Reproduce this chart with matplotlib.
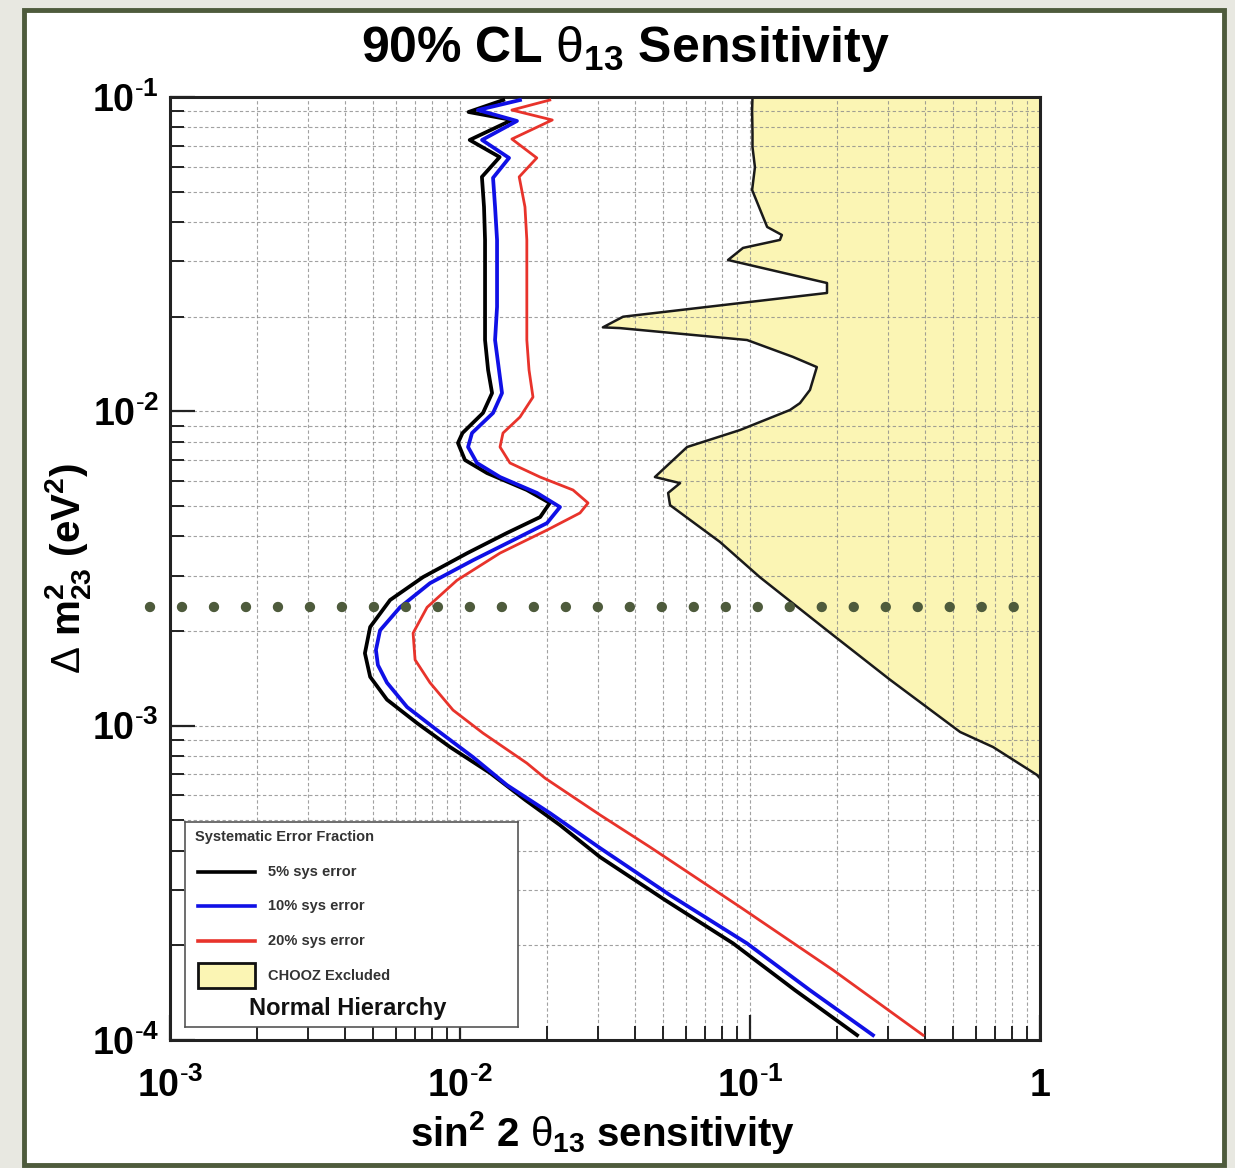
import numpy as np
import matplotlib
matplotlib.use('Agg')
import matplotlib.pyplot as plt
from matplotlib.patches import Rectangle
from matplotlib.lines import Line2D
from matplotlib.ticker import FuncFormatter, NullFormatter, LogLocator

plt.rcParams['font.family'] = ['Liberation Sans', 'DejaVu Sans']
plt.rcParams['mathtext.fontset'] = 'custom'
plt.rcParams['mathtext.rm'] = 'Liberation Sans'
plt.rcParams['mathtext.bf'] = 'Liberation Sans:bold'
plt.rcParams['mathtext.it'] = 'Liberation Sans:italic'

# ---------------- data ----------------
# 5% systematic error (black)
dm2_5 = [0.0978, 0.0896, 0.0845, 0.0730, 0.0644, 0.0557, 0.0447, 0.0351, 0.0275, 0.0215,
         0.01686, 0.01353, 0.01143, 0.00988, 0.00853, 0.00793, 0.00700, 0.00636, 0.00562,
         0.00511, 0.00461, 0.00410, 0.00354, 0.00297, 0.00251, 0.00206, 0.00170, 0.00143,
         0.00121, 0.001019, 0.000855, 0.000707, 0.000580, 0.000483, 0.000382, 0.000279,
         0.000203, 0.000144, 0.0001036]
sens_5 = [0.0141, 0.0107, 0.0151, 0.0108, 0.0137, 0.0119, 0.0121, 0.0122, 0.0122, 0.0122,
          0.0122, 0.0125, 0.0129, 0.0120, 0.0102, 0.00984, 0.0104, 0.0124, 0.0170,
          0.0204, 0.0189, 0.0145, 0.0106, 0.00746, 0.00574, 0.00490, 0.00470, 0.00490,
          0.00560, 0.00711, 0.00924, 0.0127, 0.0168, 0.0221, 0.0304, 0.0509,
          0.0874, 0.143, 0.234]

# 10% systematic error (blue)
dm2_10 = [0.0978, 0.0909, 0.0839, 0.0730, 0.0640, 0.0553, 0.0447, 0.0351, 0.0275, 0.0215,
          0.01686, 0.01353, 0.01143, 0.00988, 0.00853, 0.00770, 0.00685, 0.00618, 0.00550,
          0.00496, 0.00441, 0.00389, 0.00336, 0.00284, 0.00238, 0.00201, 0.00174, 0.00156,
          0.00137, 0.001146, 0.000968, 0.000794, 0.000647, 0.000527, 0.000408, 0.000289,
          0.000203, 0.000144, 0.0001036]
sens_10 = [0.0161, 0.01153, 0.01572, 0.01191, 0.01476, 0.0130, 0.01321, 0.01342, 0.01342, 0.01342,
           0.01321, 0.01363, 0.01396, 0.0130, 0.0110, 0.01066, 0.01144, 0.01374, 0.01843,
           0.02212, 0.01995, 0.01523, 0.01109, 0.00788, 0.00621, 0.00530, 0.00513, 0.00521,
           0.00560, 0.00657, 0.00833, 0.01109, 0.01452, 0.02043, 0.0304, 0.0530,
           0.0976, 0.161, 0.2655]

# 20% systematic error (red)
dm2_20 = [0.0978, 0.0909, 0.0845, 0.0735, 0.0640, 0.0557, 0.0447, 0.0351, 0.0275, 0.0215,
          0.01686, 0.01353, 0.0111, 0.00959, 0.00853, 0.0077, 0.00685, 0.00618, 0.00562,
          0.00511, 0.00475, 0.00419, 0.00354, 0.0029, 0.00238, 0.00197, 0.00162, 0.00137,
          0.001121, 0.000947, 0.00076, 0.000681, 0.00052, 0.000411, 0.000265, 0.000167,
          0.0001036]
sens_20 = [0.0204, 0.0151, 0.0208, 0.0151, 0.0184, 0.0160, 0.01675, 0.0170, 0.0170, 0.0170,
           0.0170, 0.0173, 0.01785, 0.0161, 0.01407, 0.01374, 0.01487, 0.01888, 0.02453,
           0.02764, 0.02593, 0.01995, 0.01374, 0.00976, 0.0077, 0.00689, 0.0070, 0.00788,
           0.00946, 0.0120, 0.0170, 0.01964, 0.0304, 0.0452, 0.0924, 0.1932,
           0.3951]

# CHOOZ excluded region boundary
chooz_dm2 = [0.1, 0.0909, 0.0768, 0.0693, 0.0598, 0.0506, 0.0386, 0.0364, 0.0351, 0.0331,
             0.0303, 0.0256, 0.0238, 0.0200, 0.0185, 0.0184, 0.01686, 0.0149, 0.01383,
             0.0117, 0.01062, 0.0101, 0.00872, 0.0077, 0.00618, 0.00591, 0.00550, 0.00503,
             0.00384, 0.00297, 0.00201, 0.00140, 0.000955, 0.000855, 0.000697, 0.00068]
chooz_sens = [0.102, 0.1017, 0.102, 0.102, 0.104, 0.1017, 0.1146, 0.1288, 0.1268, 0.0946,
              0.0840, 0.1843, 0.1843, 0.0365, 0.0311, 0.0356, 0.0977, 0.1406, 0.170,
              0.161, 0.1487, 0.1374, 0.0924, 0.0607, 0.0470, 0.0574, 0.0522, 0.0530,
              0.0788, 0.108, 0.1843, 0.304, 0.530, 0.689, 0.976, 1.0]

dm2_atm = 2.38e-3            # dotted reference line
dm2_atm_xrange = [8.5e-4, 0.83]

legend_title = 'Systematic Error Fraction'
legend_labels = ['5% sys error', '10% sys error', '20% sys error', 'CHOOZ Excluded']
hierarchy = 'Normal Hierarchy'

# ---------------- figure ----------------
W, H = 1235, 1168
fig = plt.figure(figsize=(W / 100, H / 100), dpi=100)
fig.patch.set_facecolor('#e8e8e1')
panel = Rectangle((24 / W, 3 / H), 1200 / W, 1155 / H, transform=fig.transFigure,
                  facecolor='white', edgecolor='#4e5b3c', lw=3.5, zorder=-5)
fig.patches.append(panel)

ax = fig.add_axes([170 / W, 128 / H, 870 / W, 943 / H], zorder=1)
ax.set_xscale('log')
ax.set_yscale('log')
ax.set_xlim(1e-3, 1)
ax.set_ylim(1e-4, 1e-1)
ax.set_facecolor('white')

ax.fill_betweenx(chooz_dm2, chooz_sens, 1.0, color='#fbf5b4', lw=0, zorder=1)
ax.plot(chooz_sens, chooz_dm2, color='#1a1a1a', lw=1.8, zorder=2.2)

ax.set_axisbelow('line')
ax.grid(True, which='both', ls=(0, (3, 2.2)), color='#8a8a8a', lw=0.8, alpha=0.8)

c_black, c_blue, c_red = '#000000', '#1010e6', '#e8332b'
ax.plot(sens_5, dm2_5, color=c_black, lw=2.7, zorder=3.2)
ax.plot(sens_10, dm2_10, color=c_blue, lw=2.7, zorder=3.3)
ax.plot(sens_20, dm2_20, color=c_red, lw=2.0, zorder=3.1)

# dotted reference line (extends outside axes)
ax.plot(dm2_atm_xrange, [dm2_atm, dm2_atm], color='#4e5b3c', lw=7.5,
        ls=(0, (0.001, 3.07)), dash_capstyle='round', clip_on=False, zorder=6)

for s in ax.spines.values():
    s.set_linewidth(2.2)
    s.set_color('#222222')

ax.xaxis.set_major_locator(LogLocator(base=10, numticks=10))
ax.yaxis.set_major_locator(LogLocator(base=10, numticks=10))
ax.xaxis.set_minor_locator(LogLocator(base=10, subs=np.arange(2, 10), numticks=50))
ax.yaxis.set_minor_locator(LogLocator(base=10, subs=np.arange(2, 10), numticks=50))
ax.xaxis.set_minor_formatter(NullFormatter())
ax.yaxis.set_minor_formatter(NullFormatter())


def fmt(v, pos):
    e = int(round(np.log10(v)))
    if e == 0:
        return r'$\mathbf{1}$'
    return r'$\mathbf{10^{\text{-}%d}}$' % abs(e)


ax.xaxis.set_major_formatter(FuncFormatter(fmt))
ax.yaxis.set_major_formatter(FuncFormatter(fmt))
ax.tick_params(which='major', direction='in', length=18, width=1.6, labelsize=27,
               top=False, right=False, color='#222222')
ax.tick_params(which='minor', direction='in', length=10, width=1.4,
               top=False, right=False, color='#222222')
ax.tick_params(axis='x', which='major', pad=20)
ax.tick_params(axis='y', which='major', pad=8)

# titles / labels
fig.text(625 / W, 1 - 49 / H, r'90% CL $\mathrm{\theta}_{\mathbf{13}}$ Sensitivity',
         ha='center', va='center', fontsize=36, fontweight='bold')
fig.text(603 / W, 1 - 1133 / H,
         r'sin$^{\mathbf{2}}$ 2 $\mathrm{\theta}_{\mathbf{13}}$ sensitivity',
         ha='center', va='center', fontsize=29, fontweight='bold')
fig.text(68 / W, 1 - 568 / H, r'$\Delta$ m$^{\mathbf{2}}_{\mathbf{23}}$ (eV$^{\mathbf{2}}$)',
         ha='center', va='center', rotation=90, fontsize=29, fontweight='bold')

# legend box
lx0, ly0, lx1, ly1 = 185, 822, 518, 1027
lax = fig.add_axes([lx0 / W, 1 - ly1 / H, (lx1 - lx0) / W, (ly1 - ly0) / H], zorder=10)
lax.set_xlim(lx0, lx1)
lax.set_ylim(ly1, ly0)
lax.set_xticks([])
lax.set_yticks([])
lax.set_facecolor('white')
for s in lax.spines.values():
    s.set_linewidth(1.2)
    s.set_color('#555555')

lax.text(195, 837, legend_title, ha='left', va='center', fontsize=10.5,
         fontweight='bold', color='#333333')
for yy, col, lab in zip([872, 906, 941], [c_black, c_blue, c_red], legend_labels[:3]):
    lax.add_line(Line2D([198, 255], [yy, yy], color=col, lw=2.6))
    lax.text(268, yy, lab, ha='left', va='center', fontsize=10.5, fontweight='bold',
             color='#333333')
lax.add_patch(Rectangle((198, 963), 57, 25, facecolor='#fbf5b4', edgecolor='#111111', lw=2))
lax.text(268, 976, legend_labels[3], ha='left', va='center', fontsize=10.5,
         fontweight='bold', color='#333333')
lax.text(348, 1009, hierarchy, ha='center', va='center', fontsize=17, fontweight='bold',
         color='#111111')

fig.savefig('out.png', dpi=100, facecolor=fig.get_facecolor())
